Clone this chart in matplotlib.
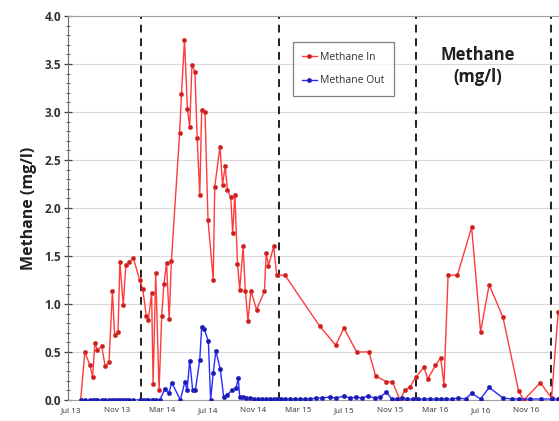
import matplotlib
matplotlib.use("Agg")
import matplotlib.pyplot as plt
import matplotlib.dates as mdates
from matplotlib.ticker import MultipleLocator
import pandas as pd

plt.rcParams['font.family'] = ['Open Sans', 'DejaVu Sans']

# Sampling campaign start; sample times are given as days after this date
start_date = "2013-07-01"

in_days = [25, 36, 50, 57, 63, 70, 81, 91, 101, 110, 116, 125, 130, 139, 146, 155,
           166, 183, 191, 201, 206, 215, 219, 226, 235, 242, 248, 255, 262, 268,
           290, 295, 303, 311, 317, 323, 331, 337, 344, 349, 358, 366, 380, 384,
           398, 405, 412, 418, 427, 432, 438, 445, 451, 460, 466, 473, 481, 496,
           517, 522, 528, 542, 550, 572, 665, 708, 730, 764, 797, 815, 844, 860,
           880, 893, 906, 923, 944, 955, 975, 989, 998, 1009, 1034, 1072, 1096,
           1119, 1156, 1198, 1212, 1256, 1286, 1304]
methane_in = [0.0, 0.50, 0.36, 0.24, 0.59, 0.52, 0.56, 0.35, 0.40, 1.13, 0.68, 0.71,
              1.44, 0.99, 1.41, 1.44, 1.48, 1.25, 1.16, 0.87, 0.83, 1.11, 0.17, 1.32,
              0.10, 0.87, 1.21, 1.43, 0.84, 1.45, 2.78, 3.19, 3.75, 3.03, 2.84, 3.49,
              3.42, 2.73, 2.13, 3.02, 3.00, 1.875, 1.25, 2.22, 2.64, 2.24, 2.44, 2.19,
              2.11, 1.74, 2.14, 1.42, 1.15, 1.60, 1.14, 0.82, 1.14, 0.94, 1.13, 1.53,
              1.40, 1.60, 1.30, 1.30, 0.77, 0.57, 0.75, 0.50, 0.50, 0.25, 0.19, 0.19,
              0.0, 0.10, 0.13, 0.24, 0.34, 0.22, 0.36, 0.44, 0.16, 1.30, 1.30, 1.80,
              0.71, 1.20, 0.86, 0.09, 0.0, 0.18, 0.02, 0.92]

out_days = [25, 36, 50, 57, 63, 70, 81, 91, 101, 110, 116, 125, 130, 139, 146, 155,
            166, 183, 191, 201, 206, 215, 219, 226, 237, 250, 261, 269, 292, 304,
            310, 317, 325, 332, 344, 349, 356, 367, 373, 380, 387, 399, 408, 416,
            430, 441, 447, 451, 459, 467, 478, 489, 499, 510, 521, 531, 542, 550,
            561, 572, 586, 599, 612, 625, 639, 655, 671, 692, 708, 730, 746, 762,
            778, 794, 813, 826, 844, 858, 872, 885, 898, 915, 928, 944, 960, 976,
            989, 1003, 1019, 1035, 1056, 1072, 1096, 1119, 1156, 1180, 1198, 1228,
            1257, 1286, 1303]
methane_out = [0.0] * 24 + [
    0.0, 0.11, 0.07, 0.18, 0.0, 0.19, 0.10, 0.41, 0.10, 0.10, 0.42, 0.76, 0.74,
    0.61, 0.0, 0.28, 0.51, 0.32, 0.03, 0.05, 0.10, 0.12, 0.23, 0.03, 0.03, 0.02,
    0.02, 0.01, 0.01, 0.01, 0.01, 0.01, 0.01, 0.01, 0.01, 0.01, 0.01, 0.01, 0.01,
    0.01, 0.01, 0.02, 0.02, 0.03, 0.02, 0.04, 0.02, 0.03, 0.02, 0.04, 0.02, 0.03,
    0.08, 0.01, 0.01, 0.02, 0.01, 0.01, 0.01, 0.01, 0.01, 0.01, 0.01, 0.01, 0.01,
    0.02, 0.01, 0.07, 0.01, 0.13, 0.02, 0.01, 0.01, 0.01, 0.01, 0.01, 0.01]

# Boundaries between monitoring years
year_breaks = ["2014-01-03", "2015-01-09", "2016-01-10", "2017-01-06"]

series_labels = ["Methane In", "Methane Out"]
y_label = "Methane (mg/l)"
panel_title = "Methane\n(mg/l)"

t0 = pd.Timestamp(start_date)
in_dates = [t0 + pd.Timedelta(days=d) for d in in_days]
out_dates = [t0 + pd.Timedelta(days=d) for d in out_days]

fig = plt.figure(figsize=(5.59, 4.21), dpi=100)
ax = fig.add_axes([0.1216, 0.050, 0.8784, 0.912])

ax.plot(in_dates, methane_in, color="#ff3b3b", lw=1.0, marker="o", ms=3.0,
        mfc="#c81e1e", mec="#e04040", mew=0.5, label=series_labels[0], zorder=3)
ax.plot(out_dates, methane_out, color="#2a2aff", lw=1.0, marker="o", ms=3.0,
        mfc="#1a1aa8", mec="#3030d0", mew=0.5, label=series_labels[1], zorder=4)

for b in year_breaks:
    ax.axvline(pd.Timestamp(b), color="#202020", lw=1.4, ls=(0, (4, 3)), zorder=2)

ax.set_ylim(0, 4.0)
ax.set_xlim(pd.Timestamp("2013-06-22"), pd.Timestamp("2017-01-27"))
ax.yaxis.set_major_locator(MultipleLocator(0.5))
ax.yaxis.set_minor_locator(MultipleLocator(0.1))
ax.yaxis.set_major_formatter(matplotlib.ticker.FormatStrFormatter("%.1f"))
ax.grid(axis="y", which="major", color="#d9d9d9", lw=0.8, zorder=0)

ax.xaxis.set_major_locator(mdates.MonthLocator(bymonth=[3, 7, 11]))
ax.xaxis.set_major_formatter(mdates.DateFormatter("%b %y"))

for lab in ax.get_yticklabels():
    lab.set_fontweight("bold")
ax.tick_params(axis="y", which="major", direction="inout", length=6, width=0.9,
               labelsize=8.5, colors="#404040", pad=2)
ax.tick_params(axis="y", which="minor", direction="inout", length=3, width=0.7,
               colors="#606060")
ax.tick_params(axis="x", length=0, labelsize=5.8, labelcolor="#303030", pad=5)
for lab in ax.get_yticklabels():
    lab.set_color("#303030")

ax.spines["left"].set_color("#707070")
ax.spines["top"].set_color("#a0a0a0")
ax.spines["bottom"].set_color("#a0a0a0")
ax.spines["right"].set_visible(False)

ax.set_ylabel(y_label, fontsize=11.5, fontweight="bold", color="#202020", labelpad=5)

leg = ax.legend(loc="upper left", bbox_to_anchor=(0.447, 0.945), fontsize=7.5,
                frameon=True, fancybox=False, edgecolor="#606060",
                handlelength=1.4, handletextpad=0.3, borderpad=0.9,
                labelspacing=1.2, markerscale=1.0)
leg.get_frame().set_linewidth(0.9)
for t in leg.get_texts():
    t.set_color("#303030")

ax.text(0.835, 0.87, panel_title, transform=ax.transAxes, ha="center", va="center",
        fontsize=12, fontweight="bold", color="#202020", linespacing=1.3)

fig.savefig("out.png", dpi=100)
